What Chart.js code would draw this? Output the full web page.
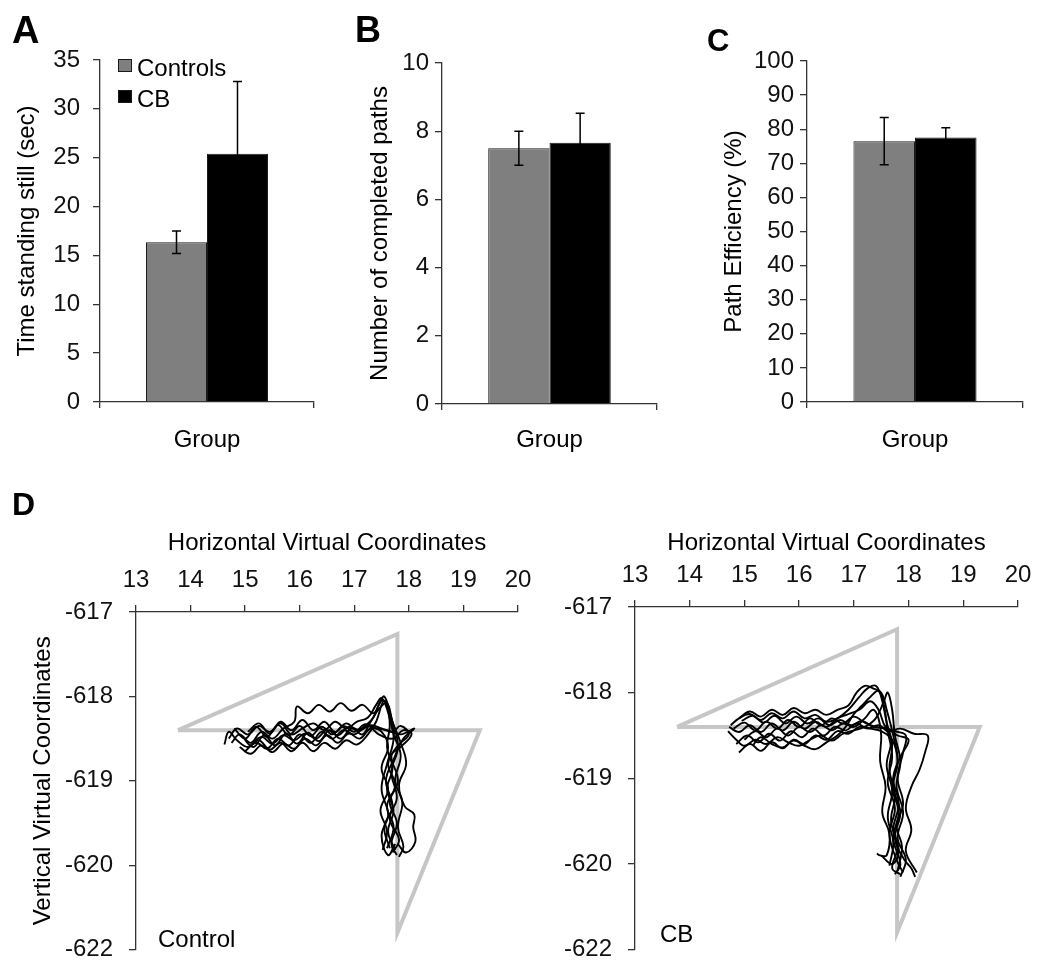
<!DOCTYPE html>
<html>
<head>
<meta charset="utf-8">
<script src="https://cdn.jsdelivr.net/npm/chart.js@4.4.1/dist/chart.umd.min.js"></script>
<style>
  body { margin: 0; background: #fff; }
  #wrap { position: relative; width: 1050px; height: 980px; overflow: hidden; font-family: "Liberation Sans", Arial, sans-serif; }
  canvas { position: absolute; }
  .panel { position: absolute; font-weight: bold; line-height: 1; color: #000; }
  .note { position: absolute; font-size: 24px; line-height: 1; color: #000; }
</style>
</head>
<body>
<div id="wrap">
  <canvas id="chartA" width="340" height="470" style="left:0;top:0"></canvas>
  <canvas id="chartB" width="345" height="470" style="left:340px;top:0"></canvas>
  <canvas id="chartC" width="360" height="470" style="left:690px;top:0"></canvas>
  <canvas id="chartD1" width="560" height="500" style="left:0;top:480px"></canvas>
  <canvas id="chartD2" width="520" height="500" style="left:530px;top:480px"></canvas>
  <div class="panel" style="left:12px;top:11px;font-size:38px">A</div>
  <div class="panel" style="left:355px;top:12px;font-size:36px">B</div>
  <div class="panel" style="left:707px;top:25px;font-size:31px">C</div>
  <div class="panel" style="left:12px;top:488px;font-size:32px">D</div>
  <div class="note" style="left:158px;top:927px">Control</div>
  <div class="note" style="left:660px;top:922px">CB</div>
</div>
<script>
// groups and bar values (mean, +/- error)
const groups = ['Controls', 'CB'];
const groupColors = ['#7f7f7f', '#000000'];
const category = ['Group'];

const standingStill = [16.35, 25.4];
const standingStillErr = [1.15, 7.4];
const completedPaths = [7.5, 7.66];
const completedPathsErr = [0.5, 0.87];
const pathEfficiency = [76.5, 77.6];
const pathEfficiencyErr = [6.9, 2.8];

// panel D: target route (grey) and the walked trajectories
const routeX = [13.77, 17.79, 17.79, 19.3, 13.77];
const routeY = [-618.4, -617.26, -620.8, -618.4, -618.4];
const dYTickValues = [-621, -620, -619, -618, -617];
const dYTickLabels = ['-622', '-620', '-619', '-618', '-617'];

const controlTrials = [
  [[14.75,-618.55],[14.9,-618.45],[15.1,-618.55],[15.3,-618.42],[15.5,-618.5],[15.7,-618.38],[15.9,-618.3],[15.95,-618.12],[16.15,-618.2],[16.35,-618.1],[16.55,-618.18],[16.75,-618.08],[16.95,-618.17],[17.15,-618.1],[17.35,-618.2],[17.5,-618.05],[17.6,-618.1],[17.65,-618.35],[17.6,-618.6],[17.7,-618.85],[17.6,-619.1],[17.72,-619.35],[17.62,-619.6],[17.75,-619.82]],
  [[14.62,-618.57],[14.7,-618.42],[14.85,-618.52],[15.05,-618.6],[15.25,-618.52],[15.45,-618.63],[15.65,-618.55],[15.85,-618.65],[16.05,-618.55],[16.25,-618.65],[16.45,-618.55],[16.65,-618.62],[16.85,-618.52],[17.05,-618.57],[17.25,-618.45],[17.4,-618.3],[17.55,-618.05],[17.7,-618.3],[17.8,-618.6],[17.68,-618.9],[17.78,-619.2],[17.65,-619.45],[17.82,-619.7],[17.7,-619.85]],
  [[14.8,-618.38],[15.0,-618.5],[15.2,-618.36],[15.4,-618.48],[15.6,-618.34],[15.8,-618.46],[16.0,-618.35],[16.2,-618.47],[16.4,-618.36],[16.6,-618.45],[16.8,-618.35],[17.0,-618.42],[17.2,-618.33],[17.4,-618.38],[17.6,-618.4],[17.85,-618.45],[18.1,-618.38],[17.9,-618.5],[17.72,-618.75],[17.58,-619.0],[17.7,-619.3],[17.55,-619.55],[17.65,-619.8]],
  [[15.0,-618.65],[15.2,-618.55],[15.4,-618.62],[15.6,-618.5],[15.8,-618.58],[16.0,-618.45],[16.2,-618.55],[16.4,-618.42],[16.6,-618.5],[16.8,-618.4],[17.0,-618.45],[17.2,-618.35],[17.35,-618.25],[17.45,-618.1],[17.55,-618.0],[17.65,-618.2],[17.72,-618.5],[17.6,-618.8],[17.5,-619.1],[17.62,-619.4],[17.5,-619.65],[17.62,-619.88],[17.75,-619.75]],
  [[14.95,-618.48],[15.15,-618.6],[15.35,-618.46],[15.55,-618.58],[15.75,-618.44],[15.95,-618.56],[16.15,-618.43],[16.35,-618.53],[16.55,-618.4],[16.75,-618.5],[16.95,-618.38],[17.15,-618.45],[17.3,-618.3],[17.45,-618.15],[17.6,-618.08],[17.7,-618.3],[17.85,-618.55],[17.95,-618.8],[17.82,-619.05],[17.92,-619.3],[18.1,-619.4],[18.08,-619.55],[18.12,-619.72],[17.95,-619.85],[17.8,-619.75]],
  [[15.05,-618.42],[15.25,-618.32],[15.45,-618.44],[15.65,-618.3],[15.85,-618.4],[16.05,-618.28],[16.25,-618.4],[16.45,-618.3],[16.65,-618.42],[16.85,-618.32],[17.05,-618.4],[17.25,-618.35],[17.45,-618.45],[17.7,-618.5],[17.9,-618.4],[18.05,-618.45],[17.85,-618.6],[17.68,-618.7],[17.8,-619.0],[17.65,-619.25],[17.78,-619.5],[17.68,-619.75],[17.78,-619.88]],
  [[14.9,-618.6],[15.1,-618.68],[15.3,-618.58],[15.5,-618.66],[15.7,-618.56],[15.9,-618.62],[16.1,-618.5],[16.3,-618.58],[16.5,-618.46],[16.7,-618.55],[16.9,-618.44],[17.1,-618.5],[17.3,-618.38],[17.5,-618.42],[17.62,-618.6],[17.5,-618.85],[17.62,-619.1],[17.48,-619.35],[17.6,-619.6],[17.52,-619.82]],
  [[14.7,-618.5],[14.85,-618.38],[15.05,-618.45],[15.25,-618.35],[15.45,-618.42],[15.65,-618.32],[15.85,-618.45],[16.05,-618.38],[16.25,-618.32],[16.45,-618.4],[16.65,-618.3],[16.85,-618.38],[17.05,-618.3],[17.25,-618.25],[17.4,-618.1],[17.5,-618.02],[17.6,-618.15],[17.72,-618.45],[17.85,-618.7],[17.75,-619.0],[17.88,-619.25],[17.8,-619.55],[17.9,-619.78],[17.82,-619.9]],
  [[15.1,-618.58],[15.3,-618.48],[15.5,-618.56],[15.7,-618.46],[15.9,-618.52],[16.1,-618.44],[16.3,-618.5],[16.5,-618.4],[16.7,-618.46],[16.9,-618.36],[17.1,-618.4],[17.3,-618.34],[17.5,-618.38],[17.7,-618.42],[17.85,-618.35],[18.0,-618.45],[17.8,-618.58],[17.62,-618.8],[17.75,-619.05],[17.6,-619.3],[17.72,-619.55],[17.6,-619.8]]
];

const cbTrials = [
  [[14.75,-618.38],[14.9,-618.3],[15.1,-618.25],[15.3,-618.32],[15.5,-618.24],[15.7,-618.3],[15.9,-618.22],[16.1,-618.3],[16.3,-618.26],[16.5,-618.34],[16.7,-618.3],[16.9,-618.2],[17.1,-618.05],[17.25,-617.95],[17.4,-617.92],[17.5,-618.05],[17.6,-618.35],[17.7,-618.6],[17.65,-618.9],[17.75,-619.2],[17.68,-619.5],[17.8,-619.8],[17.7,-620.05],[17.85,-620.12]],
  [[14.7,-618.45],[14.85,-618.55],[15.0,-618.62],[15.2,-618.55],[15.4,-618.6],[15.6,-618.52],[15.8,-618.58],[16.0,-618.62],[16.2,-618.55],[16.4,-618.5],[16.6,-618.56],[16.8,-618.48],[17.0,-618.44],[17.2,-618.4],[17.4,-618.3],[17.55,-618.1],[17.62,-618.0],[17.7,-618.2],[17.75,-618.5],[17.85,-618.8],[17.78,-619.1],[17.9,-619.4],[17.8,-619.7],[17.95,-619.95],[17.85,-620.15]],
  [[14.85,-618.6],[15.05,-618.5],[15.25,-618.58],[15.45,-618.48],[15.65,-618.56],[15.85,-618.45],[16.05,-618.52],[16.25,-618.42],[16.45,-618.5],[16.65,-618.4],[16.85,-618.44],[17.05,-618.36],[17.25,-618.42],[17.45,-618.38],[17.65,-618.45],[17.85,-618.42],[18.1,-618.48],[18.35,-618.5],[18.3,-618.7],[18.2,-618.9],[18.05,-619.1],[17.95,-619.35],[18.05,-619.6],[17.95,-619.85],[18.15,-620.1]],
  [[14.8,-618.42],[15.0,-618.35],[15.2,-618.44],[15.4,-618.34],[15.6,-618.42],[15.8,-618.32],[16.0,-618.4],[16.2,-618.3],[16.4,-618.38],[16.6,-618.3],[16.8,-618.36],[17.0,-618.28],[17.2,-618.35],[17.4,-618.4],[17.6,-618.42],[17.8,-618.5],[18.0,-618.55],[17.85,-618.75],[17.72,-619.0],[17.82,-619.3],[17.72,-619.6],[17.82,-619.85],[17.7,-620.0],[17.5,-619.9]],
  [[15.15,-618.62],[15.3,-618.52],[15.5,-618.6],[15.7,-618.64],[15.9,-618.56],[16.1,-618.62],[16.3,-618.66],[16.5,-618.58],[16.7,-618.5],[16.85,-618.4],[17.0,-618.25],[17.15,-618.15],[17.3,-618.05],[17.45,-617.98],[17.55,-618.15],[17.62,-618.45],[17.7,-618.75],[17.62,-619.05],[17.75,-619.35],[17.65,-619.65],[17.78,-619.95],[17.9,-620.1]],
  [[14.72,-618.4],[14.9,-618.46],[15.1,-618.38],[15.3,-618.46],[15.5,-618.36],[15.7,-618.44],[15.9,-618.34],[16.1,-618.42],[16.3,-618.34],[16.5,-618.4],[16.7,-618.3],[16.9,-618.25],[17.1,-618.2],[17.3,-618.1],[17.45,-618.2],[17.58,-618.4],[17.75,-618.45],[17.95,-618.5],[17.9,-618.7],[17.8,-619.0],[17.9,-619.3],[17.78,-619.55],[17.88,-619.8],[17.8,-620.08]],
  [[15.0,-618.55],[15.2,-618.45],[15.4,-618.52],[15.6,-618.42],[15.8,-618.5],[16.0,-618.4],[16.2,-618.46],[16.4,-618.38],[16.6,-618.44],[16.8,-618.36],[17.0,-618.4],[17.2,-618.3],[17.35,-618.2],[17.45,-618.3],[17.5,-618.5],[17.48,-618.8],[17.58,-619.1],[17.52,-619.4],[17.65,-619.65],[17.6,-619.9],[17.48,-619.9],[17.42,-619.88]],
  [[14.9,-618.7],[15.1,-618.6],[15.3,-618.68],[15.5,-618.58],[15.7,-618.65],[15.9,-618.55],[16.1,-618.6],[16.3,-618.5],[16.5,-618.55],[16.7,-618.45],[16.9,-618.48],[17.1,-618.4],[17.3,-618.42],[17.5,-618.45],[17.7,-618.55],[17.8,-618.8],[17.72,-619.1],[17.85,-619.4],[17.75,-619.7],[17.92,-619.95],[18.05,-620.05],[18.12,-620.15]],
  [[14.95,-618.33],[15.15,-618.27],[15.35,-618.35],[15.55,-618.27],[15.75,-618.36],[15.95,-618.28],[16.15,-618.36],[16.35,-618.3],[16.55,-618.38],[16.75,-618.32],[16.95,-618.38],[17.15,-618.33],[17.35,-618.4],[17.55,-618.42],[17.68,-618.55],[17.6,-618.85],[17.7,-619.15],[17.62,-619.45],[17.72,-619.75],[17.65,-620.02]],
  [[14.9,-618.3],[15.1,-618.22],[15.3,-618.28],[15.5,-618.2],[15.7,-618.26],[15.9,-618.18],[16.1,-618.24],[16.3,-618.2],[16.5,-618.26],[16.7,-618.2],[16.9,-618.15],[17.05,-618.0],[17.2,-617.92],[17.35,-617.95],[17.5,-618.0],[17.6,-618.2],[17.72,-618.5],[17.8,-618.8],[17.7,-619.1],[17.82,-619.4],[17.72,-619.7],[17.85,-620.0],[17.75,-620.12]]
];

Chart.defaults.font.family = '"Liberation Sans", Arial, sans-serif';
Chart.defaults.font.size = 24;
Chart.defaults.color = '#111';
const axisColor = '#333';

// error bars drawn on top of each bar
const errorBars = {
  id: 'errorBars',
  afterDatasetsDraw(chart, args, opts) {
    const ctx = chart.ctx;
    const yScale = chart.scales.y;
    ctx.save();
    ctx.strokeStyle = '#000';
    ctx.lineWidth = 1.5;
    chart.data.datasets.forEach((ds, i) => {
      const bar = chart.getDatasetMeta(i).data[0];
      const v = ds.data[0], e = opts.err[i];
      const top = yScale.getPixelForValue(v + e);
      const bot = yScale.getPixelForValue(v - e);
      ctx.beginPath();
      ctx.moveTo(bar.x, top); ctx.lineTo(bar.x, bot);
      ctx.moveTo(bar.x - 4.5, top); ctx.lineTo(bar.x + 4.5, top);
      ctx.moveTo(bar.x - 4.5, bot); ctx.lineTo(bar.x + 4.5, bot);
      ctx.stroke();
    });
    ctx.restore();
  }
};

// small square legend inside panel A
const boxLegend = {
  id: 'boxLegend',
  afterDraw(chart, args, opts) {
    const ctx = chart.ctx;
    ctx.save();
    ctx.font = '24px "Liberation Sans", Arial, sans-serif';
    chart.data.datasets.forEach((ds, i) => {
      const y = opts.y + i * opts.rowGap;
      ctx.fillStyle = ds.backgroundColor;
      ctx.fillRect(opts.x, y, opts.box, opts.box - 1);
      ctx.strokeStyle = '#1a1a1a';
      ctx.lineWidth = 1;
      ctx.strokeRect(opts.x + 0.5, y + 0.5, opts.box - 1, opts.box - 2);
      ctx.fillStyle = '#000';
      ctx.fillText(ds.label, opts.x + opts.box + 5, y + opts.baseline);
    });
    ctx.restore();
  }
};

function barChart(id, values, errs, cfg) {
  const plugins = [errorBars];
  if (cfg.legend) plugins.push(boxLegend);
  return new Chart(document.getElementById(id), {
    type: 'bar',
    data: {
      labels: category,
      datasets: groups.map((g, i) => ({
        label: g,
        data: [values[i]],
        backgroundColor: groupColors[i],
        borderColor: '#1a1a1a',
        borderWidth: 1,
        barPercentage: 1,
        categoryPercentage: 0.57
      }))
    },
    options: {
      responsive: false,
      animation: false,
      layout: { padding: cfg.padding },
      plugins: {
        legend: { display: false },
        tooltip: { enabled: false },
        errorBars: { err: errs },
        boxLegend: cfg.legend || {}
      },
      scales: {
        x: {
          grid: { drawOnChartArea: false, tickLength: 6, color: axisColor, lineWidth: 1.3 },
          border: { color: axisColor, width: 1.3 },
          ticks: { display: false },
          title: { display: true, text: 'Group', color: '#000', padding: { top: 0, bottom: cfg.xTitlePad } },
          afterFit: s => { s.height = 60; }
        },
        y: {
          min: 0,
          max: cfg.max,
          ticks: { stepSize: cfg.step, padding: cfg.tickPad },
          grid: { drawOnChartArea: false, tickLength: 7, color: axisColor, lineWidth: 1.3 },
          border: { color: axisColor, width: 1.3 },
          title: { display: true, text: cfg.yTitle, color: '#000', padding: { top: cfg.yTitlePad, bottom: 0 } },
          afterFit: s => { s.width = cfg.yWidth; }
        }
      }
    },
    plugins: plugins
  });
}

barChart('chartA', standingStill, standingStillErr, {
  max: 35, step: 5, tickPad: 13, yWidth: 100, yTitlePad: 13, xTitlePad: 7.6,
  yTitle: 'Time standing still (sec)',
  padding: { left: 0, top: 60, right: 26, bottom: 8 },
  legend: { x: 118, y: 59, box: 14, rowGap: 31, baseline: 17 }
});
barChart('chartB', completedPaths, completedPathsErr, {
  max: 10, step: 2, tickPad: 6, yWidth: 102, yTitlePad: 26, xTitlePad: 9.6,
  yTitle: 'Number of completed paths',
  padding: { left: 0, top: 63, right: 28, bottom: 6 }
});
barChart('chartC', pathEfficiency, pathEfficiencyErr, {
  max: 100, step: 10, tickPad: 6, yWidth: 117, yTitlePad: 30, xTitlePad: 7.6,
  yTitle: 'Path Efficiency (%)',
  padding: { left: 0, top: 61, right: 27, bottom: 8 }
});

function pathChart(id, trials, cfg) {
  const datasets = trials.map(t => ({
    data: t.map(p => ({ x: p[0], y: p[1] })),
    showLine: true,
    borderColor: '#000',
    borderWidth: 1.9,
    pointRadius: 0,
    tension: 0.4
  }));
  // route last so it sits underneath the trajectories
  datasets.push({
    data: routeX.map((x, i) => ({ x: x, y: routeY[i] })),
    showLine: true,
    borderColor: '#c6c6c6',
    borderWidth: 4,
    pointRadius: 0,
    tension: 0
  });
  return new Chart(document.getElementById(id), {
    type: 'scatter',
    data: { datasets: datasets },
    options: {
      responsive: false,
      animation: false,
      layout: { padding: cfg.padding },
      plugins: { legend: { display: false }, tooltip: { enabled: false } },
      scales: {
        x: {
          type: 'linear',
          position: 'top',
          min: 13,
          max: 20,
          ticks: { stepSize: 1, padding: 10.6 },
          grid: { drawOnChartArea: false, tickLength: 7, color: axisColor, lineWidth: 1.3 },
          border: { color: axisColor, width: 1.3 },
          title: { display: true, text: 'Horizontal Virtual Coordinates', color: '#000', padding: { top: 28.6, bottom: 0 } },
          afterFit: s => { s.height = cfg.xHeight; }
        },
        y: {
          type: 'linear',
          min: -621,
          max: -617,
          ticks: {
            stepSize: 1,
            padding: 16,
            callback: v => dYTickLabels[dYTickValues.indexOf(Math.round(v))]
          },
          grid: { drawOnChartArea: false, tickLength: 7, color: axisColor, lineWidth: 1.3 },
          border: { color: axisColor, width: 1.3 },
          title: { display: !!cfg.yTitle, text: cfg.yTitle || '', color: '#000', padding: { top: 29, bottom: 0 } },
          afterFit: s => { s.width = cfg.yWidth; }
        }
      }
    }
  });
}

pathChart('chartD1', controlTrials, {
  yWidth: 136, xHeight: 112, yTitle: 'Vertical Virtual Coordinates',
  padding: { left: 0, top: 20, right: 42, bottom: 29 }
});
pathChart('chartD2', cbTrials, {
  yWidth: 105, xHeight: 107,
  padding: { left: 0, top: 20, right: 32, bottom: 29 }
});
</script>
</body>
</html>
